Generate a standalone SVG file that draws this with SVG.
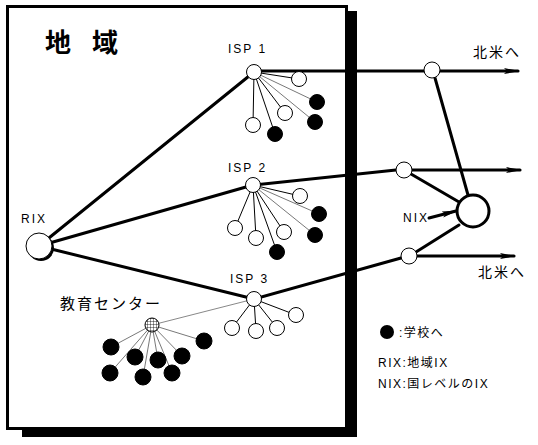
<svg xmlns="http://www.w3.org/2000/svg" width="538" height="445" viewBox="0 0 538 445">
<style>
.lat{font-family:"Liberation Sans",Arial,sans-serif;font-size:12px;letter-spacing:2px;fill:#000}
.cjk{font-family:"Liberation Sans","Noto Sans CJK JP",sans-serif;fill:#000}
.thick{stroke:#000;stroke-width:3;fill:none;stroke-linecap:round}
.thin{stroke:#000;stroke-width:1;fill:none}
.faint{stroke:#555;stroke-width:0.8;fill:none}
.gray{stroke:#888;stroke-width:1;fill:none}
.w{fill:#fff;stroke:#000;stroke-width:1}
.b{fill:#000;stroke:#000;stroke-width:1}
</style>
<defs>
<marker id="arr" markerUnits="userSpaceOnUse" markerWidth="16" markerHeight="8" refX="14" refY="4" orient="auto">
<path d="M0,1 L16,4 L0,7 L3,4 Z" fill="#000"/>
</marker>
<pattern id="grid" width="3" height="3" patternUnits="userSpaceOnUse" x="0" y="0">
<rect width="3" height="3" fill="#fff"/>
<path d="M0,0 H3 M0,0 V3" stroke="#000" stroke-width="0.8"/>
</pattern>
</defs>
<rect width="538" height="445" fill="#fff"/>
<g id="frame">
<rect x="348" y="11" width="9" height="426" fill="#000"/>
<rect x="22" y="430" width="335" height="7" fill="#000"/>
<rect x="7.5" y="6.5" width="339" height="422" fill="none" stroke="#000" stroke-width="3"/>
<text class="cjk" x="45" y="52" font-size="26" font-weight="bold" textLength="73" lengthAdjust="spacing">地 域</text>
</g>
<g id="connectors">
<line class="thick" x1="39" y1="246" x2="254" y2="72"/>
<line class="thick" x1="39" y1="246" x2="253" y2="185"/>
<line class="thick" x1="39" y1="246" x2="254" y2="299"/>
<line class="thick" x1="254" y1="71" x2="424" y2="71"/>
<line class="thick" x1="440" y1="71" x2="518" y2="71" marker-end="url(#arr)"/>
<line class="thick" x1="253" y1="185" x2="396" y2="170"/>
<line class="thick" x1="412" y1="170" x2="520" y2="170" marker-end="url(#arr)"/>
<line class="thick" x1="254" y1="299" x2="401" y2="258"/>
<line class="thick" x1="417" y1="256" x2="514" y2="256" marker-end="url(#arr)"/>
<line class="thick" x1="435" y1="78" x2="468" y2="195"/>
<line class="thick" x1="411" y1="174" x2="459" y2="202"/>
<line class="thick" x1="416" y1="252" x2="459" y2="225"/>
<line class="thick" x1="429" y1="218" x2="456" y2="211" marker-end="url(#arr)"/>
<line class="gray" x1="152" y1="325" x2="254" y2="299"/>
<!-- ISP1 children -->
<line class="thin" x1="254" y1="72" x2="299" y2="79"/>
<line class="faint" x1="254" y1="72" x2="317" y2="102"/>
<line class="thin" x1="254" y1="72" x2="285" y2="113"/>
<line class="faint" x1="254" y1="72" x2="315" y2="122"/>
<line class="thin" x1="254" y1="72" x2="253" y2="125"/>
<line class="thin" x1="254" y1="72" x2="275" y2="134"/>
<!-- ISP2 children -->
<line class="thin" x1="253" y1="185" x2="300" y2="196"/>
<line class="faint" x1="253" y1="185" x2="319" y2="214"/>
<line class="thin" x1="253" y1="185" x2="235" y2="228"/>
<line class="thin" x1="253" y1="185" x2="256" y2="238"/>
<line class="thin" x1="253" y1="185" x2="284" y2="232"/>
<line class="faint" x1="253" y1="185" x2="315" y2="235"/>
<line class="thin" x1="253" y1="185" x2="277" y2="252"/>
<!-- ISP3 children -->
<line class="thin" x1="254" y1="299" x2="296" y2="315"/>
<line class="thin" x1="254" y1="299" x2="232" y2="328"/>
<line class="thin" x1="254" y1="299" x2="256" y2="331"/>
<line class="thin" x1="254" y1="299" x2="277" y2="328"/>
<!-- Edu children -->
<line class="faint" x1="152" y1="325" x2="111" y2="347"/>
<line class="faint" x1="152" y1="325" x2="135" y2="357"/>
<line class="faint" x1="152" y1="325" x2="158" y2="360"/>
<line class="faint" x1="152" y1="325" x2="182" y2="356"/>
<line class="faint" x1="152" y1="325" x2="204" y2="341"/>
<line class="faint" x1="152" y1="325" x2="110" y2="373"/>
<line class="faint" x1="152" y1="325" x2="143" y2="377"/>
<line class="faint" x1="152" y1="325" x2="172" y2="373"/>
</g>
<g id="rix">
<circle cx="41" cy="248" r="13" fill="#000"/>
<circle cx="39" cy="246" r="13" class="w"/>
<text class="lat" x="21" y="223">RIX</text>
</g>
<g id="isp1">
<circle cx="254" cy="72" r="7.5" class="w"/>
<text class="lat" x="228" y="53">ISP 1</text>
<circle cx="299" cy="79" r="7.5" class="w"/>
<circle cx="317" cy="102" r="7.5" class="b"/>
<circle cx="285" cy="113" r="7.5" class="w"/>
<circle cx="315" cy="122" r="7.5" class="b"/>
<circle cx="253" cy="125" r="7.5" class="w"/>
<circle cx="275" cy="134" r="7.5" class="b"/>
</g>
<g id="isp2">
<circle cx="253" cy="185" r="7.5" class="w"/>
<text class="lat" x="228" y="172">ISP 2</text>
<circle cx="300" cy="196" r="7.5" class="w"/>
<circle cx="319" cy="214" r="7.5" class="b"/>
<circle cx="235" cy="228" r="7.5" class="w"/>
<circle cx="256" cy="238" r="7.5" class="w"/>
<circle cx="284" cy="232" r="7.5" class="w"/>
<circle cx="315" cy="235" r="7.5" class="b"/>
<circle cx="277" cy="252" r="7.5" class="b"/>
</g>
<g id="isp3">
<circle cx="254" cy="299" r="7.5" class="w"/>
<text class="lat" x="230" y="283">ISP 3</text>
<circle cx="296" cy="315" r="7.5" class="w"/>
<circle cx="232" cy="328" r="7.5" class="w"/>
<circle cx="256" cy="331" r="7.5" class="w"/>
<circle cx="277" cy="328" r="7.5" class="w"/>
</g>
<g id="edu">
<circle cx="152" cy="325" r="7" fill="url(#grid)" stroke="#000" stroke-width="1"/>
<text class="cjk" x="60" y="309" font-size="15" letter-spacing="2">教育センター</text>
<circle cx="111" cy="347" r="8" class="b"/>
<circle cx="135" cy="357" r="8" class="b"/>
<circle cx="158" cy="360" r="8" class="b"/>
<circle cx="182" cy="356" r="8" class="b"/>
<circle cx="204" cy="341" r="8" class="b"/>
<circle cx="110" cy="373" r="8" class="b"/>
<circle cx="143" cy="377" r="8" class="b"/>
<circle cx="172" cy="373" r="8" class="b"/>
</g>
<g id="relay1"><circle cx="432" cy="70" r="8" class="w"/></g>
<g id="relay2"><circle cx="404" cy="170" r="8" class="w"/></g>
<g id="relay3"><circle cx="409" cy="256" r="8" class="w"/></g>
<g id="nix">
<circle cx="473" cy="211" r="16" fill="#fff" stroke="#000" stroke-width="3"/>
<text class="lat" x="403" y="222" letter-spacing="0.5">NIX</text>
</g>
<g id="out1"><text class="cjk" x="473" y="57" font-size="14" letter-spacing="2">北米へ</text></g>
<g id="out2"><text class="cjk" x="478" y="277" font-size="14" letter-spacing="2">北米へ</text></g>
<g id="legend">
<circle cx="387" cy="332" r="7" fill="#000"/>
<text class="cjk" x="399" y="337" font-size="12" letter-spacing="1.5">:学校へ</text>
<text class="cjk" x="378" y="367" font-size="12" letter-spacing="1.5">RIX:地域IX</text>
<text class="cjk" x="378" y="388" font-size="12" letter-spacing="1.5">NIX:国レベルのIX</text>
</g>
</svg>
